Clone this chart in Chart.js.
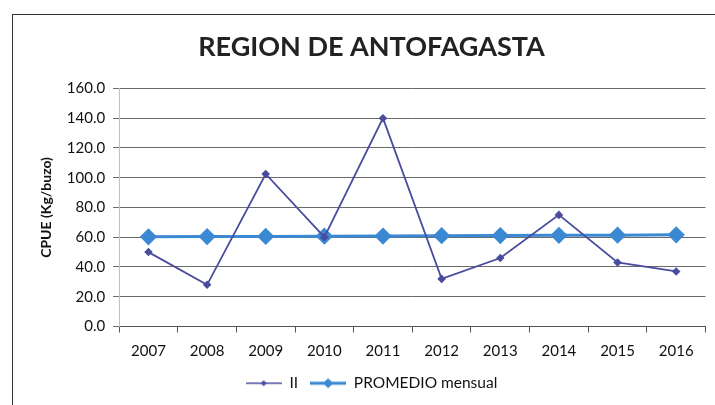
<!DOCTYPE html>
<html>
<head>
<meta charset="utf-8">
<script src="https://cdn.jsdelivr.net/npm/chart.js@4.4.0/dist/chart.umd.min.js"></script>
<style>
  body { margin: 0; background: #fff; }
  #wrap { position: relative; width: 715px; height: 405px; overflow: hidden; }
  #frame { position: absolute; left: 12px; top: 14px; width: 720px; height: 400px; border: 1.5px solid #333; }
  canvas { position: absolute; left: 0; top: 0; }
</style>
</head>
<body>
<div id="wrap">
  <div id="frame"></div>
  <canvas id="cpueChart" width="715" height="405"></canvas>
</div>
<script>
const years = ['2007', '2008', '2009', '2010', '2011', '2012', '2013', '2014', '2015', '2016'];
const regionII = [50, 28, 102.5, 60, 140, 32, 46, 75, 43, 37];
const promedio = [60.3, 60.4, 60.5, 60.7, 60.8, 61.0, 61.1, 61.3, 61.4, 61.6];

const purple = '#4a4c9e';
const blue = '#3b88d3';

// little legend swatch: line with a diamond in the middle
function legendSwatch(color, lineW, r) {
  const c = document.createElement('canvas');
  c.width = 36; c.height = 14;
  const g = c.getContext('2d');
  g.strokeStyle = color; g.lineWidth = lineW;
  g.beginPath(); g.moveTo(0, 7); g.lineTo(36, 7); g.stroke();
  g.fillStyle = color;
  g.beginPath(); g.moveTo(18, 7 - r); g.lineTo(18 + r, 7); g.lineTo(18, 7 + r); g.lineTo(18 - r, 7); g.closePath(); g.fill();
  return c;
}
const swatches = [legendSwatch(purple, 1.5, 3), legendSwatch(blue, 3, 5)];

const ctx = document.getElementById('cpueChart').getContext('2d');
new Chart(ctx, {
  type: 'line',
  data: {
    labels: years,
    datasets: [
      {
        label: 'II',
        data: regionII,
        borderColor: purple,
        backgroundColor: purple,
        borderWidth: 1.8,
        pointStyle: 'rectRot',
        pointRadius: 3,
        tension: 0
      },
      {
        label: 'PROMEDIO mensual',
        data: promedio,
        borderColor: blue,
        backgroundColor: blue,
        borderWidth: 3,
        pointStyle: 'rectRot',
        pointRadius: 6.5,
        tension: 0
      }
    ]
  },
  options: {
    responsive: false,
    animation: false,
    layout: { padding: { left: 34, right: 6, top: 16, bottom: 4 } },
    plugins: {
      title: {
        display: true,
        text: 'REGION DE ANTOFAGASTA',
        color: '#222',
        font: { family: 'Lato', size: 27, weight: 'bold' },
        padding: { top: 15, bottom: 25 }
      },
      legend: {
        position: 'bottom',
        labels: {
          color: '#111',
          font: { family: 'Lato', size: 15.5 },
          usePointStyle: true,
          pointStyleWidth: 36,
          boxHeight: 14,
          padding: 12,
          generateLabels: chart => {
            const items = Chart.defaults.plugins.legend.labels.generateLabels(chart);
            items.forEach((it, i) => { it.pointStyle = swatches[i]; });
            return items;
          }
        }
      },
      tooltip: { enabled: false }
    },
    scales: {
      x: {
        offset: true,
        afterFit: scale => { scale.height = 37; },
        grid: { display: true, offset: true, drawOnChartArea: false, tickLength: 6, color: '#555' },
        border: { color: '#555' },
        ticks: { color: '#111', font: { family: 'Lato', size: 15 }, padding: 10 }
      },
      y: {
        min: 0,
        max: 160,
        ticks: {
          stepSize: 20,
          color: '#111',
          font: { family: 'Lato', size: 15 },
          padding: 8,
          callback: v => v.toFixed(1)
        },
        grid: { color: '#6a6a6a', tickLength: 6 },
        border: { color: '#a9c6e6' },
        title: {
          display: true,
          text: 'CPUE (Kg/buzo)',
          color: '#111',
          font: { family: 'Lato', size: 14, weight: 'bold' }
        }
      }
    }
  }
});
</script>
</body>
</html>
